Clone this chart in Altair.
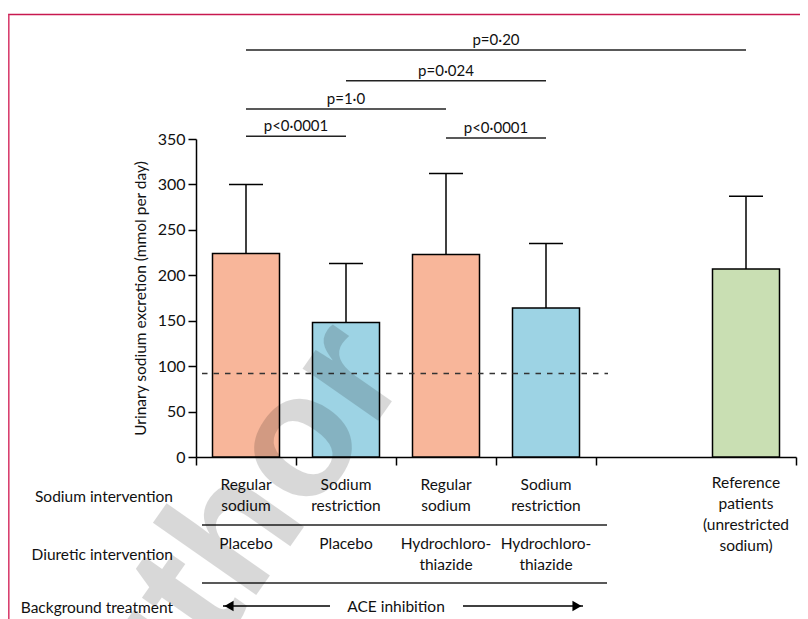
import altair as alt
import pandas as pd

# ---------------- data ----------------
groups = ["Regular sodium + placebo", "Sodium restriction + placebo",
          "Regular sodium + hydrochlorothiazide", "Sodium restriction + hydrochlorothiazide",
          "Reference patients"]
slots = [0, 1, 2, 3, 5]            # slot index on the x axis (slot 4 left empty)
means = [224, 148, 223, 164, 207]
upper_sd = [300, 213, 312, 235, 287]
fills = ["#F8B69A", "#9DD3E4", "#F8B69A", "#9DD3E4", "#C9DFB3"]
reference_value = 92

sig_from = [0, 1, 0, 0, 2]
sig_to = [4, 3, 2, 1, 3]
sig_y = [448, 414, 383, 353, 351]
sig_label = ["p=0·20", "p=0·024", "p=1·0", "p<0·0001", "p<0·0001"]

sodium_row = ["Regular\nsodium", "Sodium\nrestriction", "Regular\nsodium", "Sodium\nrestriction"]
diuretic_row = ["Placebo", "Placebo", "Hydrochloro-\nthiazide", "Hydrochloro-\nthiazide"]
reference_label = "Reference\npatients\n(unrestricted\nsodium)"
row_labels = ["Sodium intervention", "Diuretic intervention", "Background treatment"]
background_label = "ACE inhibition"
y_ticks = [0, 50, 100, 150, 200, 250, 300, 350]
x_ticks = [0, 1, 2, 3, 4, 6]

# ---------------- layout constants ----------------
FONT = "Lato"
BAR_HALF = 0.335
CAP_HALF = 0.17
SPAN = (0.06, 4.11)
W, H = 600, 318
YMAX = 350


def px_y(py):
    """pixel offset below the plot top -> value on the y scale"""
    return YMAX * (1 - py / H)


def px_x(px):
    return px / 100.0


centers = [s + 0.5 for s in slots]
bars = pd.DataFrame({
    "group": groups, "c": centers, "mean": means, "up": upper_sd, "fill": fills,
    "x0": [c - BAR_HALF for c in centers], "x1": [c + BAR_HALF for c in centers],
    "cx0": [c - CAP_HALF for c in centers], "cx1": [c + CAP_HALF for c in centers],
})

xs = alt.Scale(domain=[0, 6], nice=False, zero=False)
ys = alt.Scale(domain=[0, YMAX], nice=False)
X_AX = alt.Axis(values=x_ticks, labels=False, title=None, tickSize=8, grid=False,
                domainColor="black", tickColor="black", domainWidth=1.5, tickWidth=1.5)
Y_AX = alt.Axis(values=y_ticks, title="Urinary sodium excretion (mmol per day)",
                tickSize=8, grid=False, domainColor="black", tickColor="black",
                domainWidth=1.5, tickWidth=1.5, labelFontSize=16,
                labelColor="#111", labelPadding=3, titleFontSize=15.5,
                titleFontWeight="normal", titleColor="#111", titlePadding=9,
                labelFont=FONT, titleFont=FONT)


def X(f):
    return alt.X(f, scale=xs, axis=X_AX)


def Y(f):
    return alt.Y(f, scale=ys, axis=Y_AX)


base = alt.Chart(bars)

bar_layer = base.mark_bar(stroke="black", strokeWidth=1.5).encode(
    x=X("x0:Q"), x2="x1:Q", y=Y("mean:Q"), y2=alt.datum(0),
    fill=alt.Fill("fill:N", scale=None),
)
err_stem = base.mark_rule(color="black", strokeWidth=1.5).encode(
    x=X("c:Q"), y=Y("mean:Q"), y2="up:Q")
err_cap = base.mark_rule(color="black", strokeWidth=1.5).encode(
    x=X("cx0:Q"), x2="cx1:Q", y=Y("up:Q"))

ref_df = pd.DataFrame({"a": [SPAN[0]], "b": [4.12], "v": [reference_value]})
ref_line = alt.Chart(ref_df).mark_rule(color="#333", strokeWidth=1.5, strokeDash=[5.5, 6]).encode(
    x=X("a:Q"), x2="b:Q", y=Y("v:Q"))

sig_df = pd.DataFrame({
    "a": [centers[i] for i in sig_from], "b": [centers[j] for j in sig_to],
    "y": sig_y, "label": sig_label})
sig_df["m"] = (sig_df["a"] + sig_df["b"]) / 2
sig_lines = alt.Chart(sig_df).mark_rule(color="#222", strokeWidth=1.5).encode(
    x=X("a:Q"), x2="b:Q", y=Y("y:Q"))
sig_text = alt.Chart(sig_df).mark_text(font=FONT, fontSize=15, dy=-5, baseline="alphabetic",
                                       color="#111").encode(
    x=X("m:Q"), y=Y("y:Q"), text="label:N")

# ---------------- table under the chart ----------------
tbl_font = dict(font=FONT, fontSize=15.5, color="#111", lineBreak="\n", lineHeight=21,
                baseline="alphabetic")

sod_df = pd.DataFrame({"c": centers[:4], "t": sodium_row, "y": [px_y(351)] * 4})
sod_text = alt.Chart(sod_df).mark_text(align="center", **tbl_font).encode(
    x=X("c:Q"), y=Y("y:Q"), text="t:N")
diu_df = pd.DataFrame({"c": centers[:4], "t": diuretic_row, "y": [px_y(410)] * 4})
diu_text = alt.Chart(diu_df).mark_text(align="center", **tbl_font).encode(
    x=X("c:Q"), y=Y("y:Q"), text="t:N")
refp_df = pd.DataFrame({"c": [centers[4]], "t": [reference_label], "y": [px_y(348.5)]})
refp_text = alt.Chart(refp_df).mark_text(align="center", **tbl_font).encode(
    x=X("c:Q"), y=Y("y:Q"), text="t:N")

rows_df = pd.DataFrame({"t": row_labels, "x": [px_x(-23)] * 3,
                        "y": [px_y(363), px_y(421), px_y(474)]})
rows_text = alt.Chart(rows_df).mark_text(align="right", **tbl_font).encode(
    x=X("x:Q"), y=Y("y:Q"), text="t:N")

sep_df = pd.DataFrame({"a": [SPAN[0]] * 2, "b": [SPAN[1]] * 2, "y": [px_y(386), px_y(444)]})
sep_lines = alt.Chart(sep_df).mark_rule(color="#222", strokeWidth=1.5).encode(
    x=X("a:Q"), x2="b:Q", y=Y("y:Q"))

arrow_df = pd.DataFrame({"tail": [1.34, 2.67], "tip": [0.27, 3.87], "y": [px_y(467)] * 2})
arrow_lines = alt.Chart(arrow_df).mark_rule(color="black", strokeWidth=1.5).encode(
    x=X("tail:Q"), x2="tip:Q", y=Y("y:Q"))
head_df = pd.DataFrame({"x": [0.33, 3.81], "shape": ["triangle-left", "triangle-right"],
                        "y": [px_y(467)] * 2})
arrow_heads = alt.Chart(head_df).mark_point(filled=True, color="black", opacity=1, size=110).encode(
    x=X("x:Q"), y=Y("y:Q"), shape=alt.Shape("shape:N", scale=None))
bg_df = pd.DataFrame({"c": [2.0], "t": [background_label], "y": [px_y(473)]})
bg_text = alt.Chart(bg_df).mark_text(align="center", **tbl_font).encode(
    x=X("c:Q"), y=Y("y:Q"), text="t:N")

# ---------------- frame and watermark ----------------
frame_top = alt.Chart(pd.DataFrame({"k": [0]})).mark_rule(color="#C8184F", strokeWidth=1.6).encode(
    x=alt.value(-188), x2=alt.value(700), y=alt.value(-124.5))
frame_left = alt.Chart(pd.DataFrame({"k": [0]})).mark_rule(color="#D8406F", strokeWidth=1.6).encode(
    x=alt.value(-187.2), y=alt.value(-124.5), y2=alt.value(600))
watermark = alt.Chart(pd.DataFrame({"t": ["Author"]})).mark_text(
    font="Liberation Sans", fontWeight="bold", fontSize=174, angle=305, color="black", opacity=0.15,
    align="center", baseline="middle").encode(
    x=alt.value(8), y=alt.value(440), text="t:N")

chart = alt.layer(
    bar_layer, err_stem, err_cap, ref_line, sig_lines, sig_text,
    sod_text, diu_text, refp_text, rows_text, sep_lines, arrow_lines, arrow_heads, bg_text,
    frame_top, frame_left, watermark,
).properties(
    width=W, height=H,
    autosize=alt.AutoSizeParams(type="none"),
    padding={"left": 188, "top": 131, "right": 4, "bottom": 170},
).configure(font=FONT, background="white").configure_view(stroke=None).configure_axis(
    labelFontSize=16, titleFontSize=15.5, labelFont=FONT, titleFont=FONT,
    titleFontWeight="normal", labelColor="#111", titleColor="#111")

chart.save("out.html", embed_options={"renderer": "svg", "actions": False})
